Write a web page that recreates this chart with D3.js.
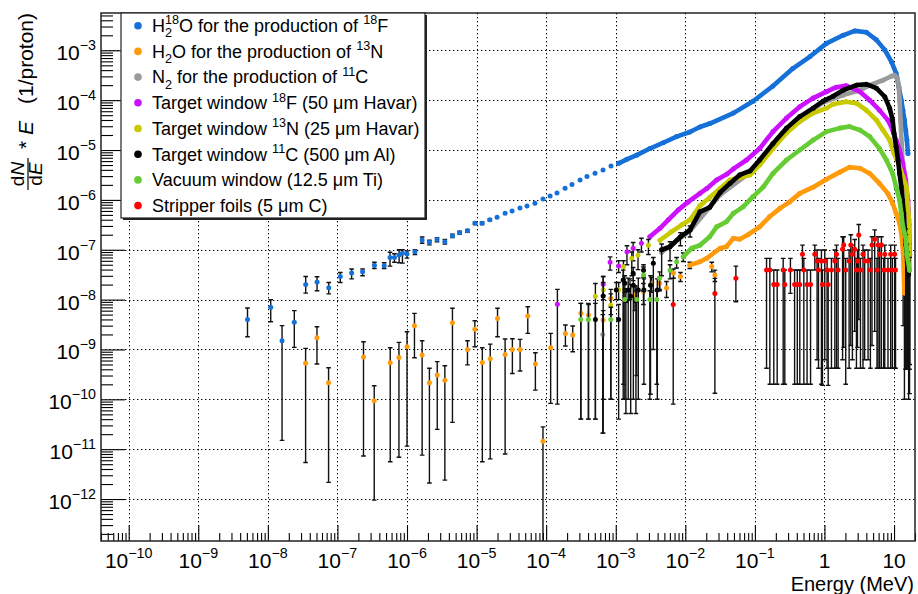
<!DOCTYPE html>
<html>
<head>
<meta charset="utf-8">
<script src="https://cdn.jsdelivr.net/npm/d3@7"></script>
<style>
  html, body { margin: 0; padding: 0; background: #fff; }
  svg { display: block; font-family: "Liberation Sans", Arial, Helvetica, sans-serif; }
</style>
</head>
<body>
<svg id="chart" width="918" height="594"></svg>
<script>
// ---------------- axis ranges and tick labels ----------------
const energyDomain = [4e-11, 20];        // MeV
const fluxDomain = [1.44e-13, 5.6e-3];   // dN/dE * E  (1/proton)
const xTickValues = [1e-10, 1e-9, 1e-8, 1e-7, 1e-6, 1e-5, 1e-4, 1e-3, 1e-2, 1e-1, 1, 10];
const xTickLabels = [["10","\u221210"],["10","\u22129"],["10","\u22128"],["10","\u22127"],["10","\u22126"],["10","\u22125"],
                     ["10","\u22124"],["10","\u22123"],["10","\u22122"],["10","\u22121"],["1",""],["10",""]];
const yTickValues = [1e-12, 1e-11, 1e-10, 1e-9, 1e-8, 1e-7, 1e-6, 1e-5, 1e-4, 1e-3];
const yTickLabels = [["10","\u221212"],["10","\u221211"],["10","\u221210"],["10","\u22129"],["10","\u22128"],
                     ["10","\u22127"],["10","\u22126"],["10","\u22125"],["10","\u22124"],["10","\u22123"]];

// ---------------- legend ----------------
const legendLabels = [
  [["H",""],["2","substack"],["18","sup"],["O for the production of ",""],["18","sup"],["F",""]],
  [["H",""],["2","sub"],["O for the production of ",""],["13","sup"],["N",""]],
  [["N",""],["2","sub"],[" for the production of ",""],["11","sup"],["C",""]],
  [["Target window ",""],["18","sup"],["F (50 \u03bcm Havar)",""]],
  [["Target window ",""],["13","sup"],["N (25 \u03bcm Havar)",""]],
  [["Target window ",""],["11","sup"],["C (500 \u03bcm Al)",""]],
  [["Vacuum window (12.5 \u03bcm Ti)",""]],
  [["Stripper foils (5 \u03bcm C)",""]]
];
const seriesColors = ["#1570d8", "#ff9a0a", "#9a9a9a", "#cc11ff", "#c9c900", "#000000", "#66cc33", "#ff0000"];

// ---------------- data: [E (MeV), value, lower, upper] ----------------
// H2-18O target
const h218oScatter = [
  [5.1e-9,4.0e-9,1.8e-9,6.8e-9],[1.1e-8,7.0e-9,3.6e-9,1.0e-8],[1.6e-8,1.5e-9,1.5e-11,3.0e-9],[2.4e-8,3.5e-9,1.1e-9,6.0e-9],
  [3.5e-8,2.0e-8,1.35e-8,2.9e-8],[5.1e-8,2.25e-8,1.5e-8,2.87e-8],[7.5e-8,1.73e-8,1.3e-8,2.2e-8],[1.1e-7,2.9e-8,2.2e-8,3.5e-8],
  [1.6e-7,3.4e-8,2.6e-8,4.1e-8],[2.3e-7,3.6e-8,3.0e-8,4.1e-8],[3.4e-7,4.9e-8,4.2e-8,5.6e-8],[4.7e-7,4.8e-8,4.2e-8,5.5e-8],
  [5.7e-7,7.0e-8,4.7e-8,8.9e-8],[6.6e-7,7.0e-8,5.6e-8,8.3e-8],[7.7e-7,7.8e-8,5.5e-8,1.0e-7],[8.6e-7,8.5e-8,5.4e-8,1.0e-7],
  [1.0e-6,8.2e-8,6.8e-8,9.5e-8],[1.3e-6,9.1e-8,8.0e-8,1.0e-7],[1.65e-6,1.57e-7,1.35e-7,1.8e-7],[2.1e-6,1.41e-7,1.25e-7,1.55e-7],
  [2.7e-6,1.6e-7,1.45e-7,1.75e-7],[3.5e-6,1.45e-7,1.3e-7,1.6e-7],[4.5e-6,1.9e-7,1.75e-7,2.05e-7],[5.7e-6,2.2e-7,2.05e-7,2.35e-7],
  [7.4e-6,2.4e-7,2.25e-7,2.55e-7],[9.5e-6,3.4e-7,3.2e-7,3.6e-7],[1.2e-5,3.4e-7,3.2e-7,3.6e-7],[1.55e-5,4.0e-7,3.8e-7,4.2e-7],
  [1.97e-5,4.5e-7],[2.57e-5,5.4e-7],[3.24e-5,6.0e-7],[4.2e-5,6.9e-7],[5.3e-5,7.5e-7],[6.9e-5,8.6e-7],[9.0e-5,1.04e-6],
  [1.14e-4,1.19e-6],[1.43e-4,1.37e-6],[1.87e-4,1.71e-6],[2.35e-4,2.03e-6],[3.07e-4,2.5e-6],[3.86e-4,2.94e-6],
  [5.04e-4,3.41e-6],[6.56e-4,3.97e-6],[8.55e-4,4.78e-6]
];
const h218oCurve = [
  [1.1e-3,5.4e-6],[1.44e-3,6.5e-6],[2.0e-3,7.9e-6],[3.1e-3,1.07e-5],[4.8e-3,1.4e-5],[7.5e-3,1.86e-5],[1.16e-2,2.3e-5],
  [1.62e-2,2.9e-5],[2.25e-2,3.4e-5],[4.9e-2,5.5e-5],[9.4e-2,9.5e-5],[0.18,1.9e-4],[0.35,4.3e-4],[0.62,7.5e-4],
  [1.07,1.38e-3],[1.85,2.0e-3],[2.72,2.45e-3],[4.0,2.3e-3],[5.57,1.62e-3],[7.35,1.02e-3],[9.16,5.9e-4],[10.7,3.47e-4],
  [11.7,1.86e-4],[12.7,1.0e-4],[13.4,6.3e-5],[14.1,4.0e-5],[14.7,2.5e-5],[15.3,1.58e-5],[15.85,8.5e-6]
];

// H2O target
const h2oScatter = [
  [3.49e-8,5.26e-10,5.4e-12,1.05e-9],[5.08e-8,1.72e-9,5.1e-10,2.85e-9],[7.46e-8,2.15e-10,2.16e-12,4.3e-10],
  [2.37e-7,7.1e-10,7.3e-12,1.43e-9],[3.38e-7,9.4e-11,9.5e-13,1.87e-10],[5.74e-7,5.4e-10,5.6e-12,1.08e-9],
  [7.66e-7,6.9e-10,6.9e-12,1.39e-9],[1.0e-6,1.13e-9,1.15e-11,2.26e-9],[1.28e-6,2.99e-9,6.8e-10,5.3e-9],
  [1.65e-6,7.7e-10,7.6e-12,1.49e-9],[2.1e-6,2.15e-10,2.1e-12,4.2e-10],[2.72e-6,3.07e-10,2.5e-11,5.7e-10],
  [3.5e-6,2.4e-10,2.4e-12,4.7e-10],[4.5e-6,3.44e-9,3.45e-11,6.7e-9],[7.4e-6,1.0e-9,4.9e-10,1.49e-9],
  [9.44e-6,2.53e-9,1.13e-9,3.77e-9],[1.21e-5,5.5e-10,5.6e-12,1.08e-9],[1.57e-5,6.5e-10,6.4e-12,1.28e-9],
  [2.0e-5,4.2e-9,1.8e-9,6.7e-9],[2.57e-5,7.9e-10,8.0e-12,1.62e-9],[3.27e-5,1.0e-9,3.3e-10,1.64e-9],
  [4.22e-5,1.0e-9,3.7e-10,1.59e-9],[5.44e-5,4.7e-9,2.1e-9,7.2e-9],[7.0e-5,5.1e-10,1.53e-10,8.6e-10],
  [9.0e-5,1.44e-11,1e-14,2.8e-11],[1.16e-4,1.08e-9,8.3e-11,2.1e-9],[1.89e-4,2.1e-9,1.17e-9,3.1e-9],
  [2.41e-4,1.95e-9,9.0e-10,2.95e-9],[3.16e-4,5.3e-9,4e-11,8.4e-9],[4.07e-4,4.9e-9,4e-11,8e-9],
  [6.6e-4,3.9e-9,1e-10,6e-9],[8.5e-4,1.06e-8,5e-9,1.6e-8],
  [1.6e-3,1.8e-8,1.0e-8,2.6e-8],[1.89e-3,1.23e-8,6e-9,1.9e-8],[2.5e-3,1.45e-8,8e-9,2.1e-8],[3.28e-3,2.14e-8,1.4e-8,2.8e-8],
  [4.27e-3,2.14e-8,1.5e-8,2.8e-8],[5.37e-3,1.7e-8,1.1e-8,2.3e-8],[6.76e-3,3.4e-8,2.7e-8,4.1e-8],[8.51e-3,2.9e-8,2.3e-8,3.5e-8],
  [2.4e-2,4.6e-8,3.6e-8,5.6e-8],[2.66e-2,3.1e-8,2.3e-8,3.9e-8]
];
const h2oCurve = [
  [1.16e-2,4.9e-8,4.2e-8,5.6e-8],[1.62e-2,5.75e-8],[2.04e-2,6.76e-8],[3.16e-2,1.07e-7],[3.89e-2,1.15e-7],[4.9e-2,1.7e-7],
  [6.03e-2,1.62e-7],[7.94e-2,2.0e-7],[0.117,2.88e-7],[0.162,4.57e-7],[0.229,6.76e-7],[0.316,9.12e-7],[0.442,1.35e-6],
  [0.687,1.8e-6],[1.07,2.6e-6],[1.66,3.6e-6],[2.29,4.5e-6],[3.24,4.3e-6],[4.47,3.39e-6],[6.17,2.14e-6],[8.13,1.35e-6],
  [9.55,8.51e-7],[10.7,5.37e-7],[12.0,3.39e-7],[12.7,2.14e-7],[13.5,8.9e-8,3e-9,1.5e-7],[14.1,1.35e-8,1e-10,3e-8]
];

// N2 target
const n2Scatter = [[6.5e-4,2.0e-9,2.1e-11,5e-9]];
const n2Curve = [
  [4.57e-3,8.9e-8],[1.17e-2,2.4e-7],[3.16e-2,1.26e-6],[8.51e-2,3.55e-6],[0.182,1.26e-5],[0.442,4.37e-5],
  [0.955,8.9e-5],[1.85,1.26e-4],[3.24,1.58e-4],[4.47,2.0e-4],[6.92,2.51e-4],[9.12,3.02e-4],[10.2,3.16e-4],[11.2,2.75e-4],
  [11.7,1.86e-4],[12.0,1.0e-4],[12.4,3.98e-5],[12.9,1.26e-5],[13.5,3.16e-6],[14.5,6.3e-7],[15.5,1.26e-7]
];

// Target window, 18F (50 um Havar)
const window18FScatter = [
  [1.45e-4,8.1e-9,8.0e-11,1.6e-8],[6.6e-4,2.04e-8,1.2e-8,2.9e-8],[8.3e-4,5.6e-8,3.9e-8,7.2e-8],[1.1e-3,4.7e-8,3.5e-8,6e-8],
  [1.45e-3,9.1e-8,5e-8,1.2e-7],[1.78e-3,1.07e-7,6e-8,1.4e-7],[2.34e-3,1.35e-7,9e-8,1.7e-7]
];
const window18FCurve = [
  [3.09e-3,1.82e-7],[4.32e-3,2.69e-7],
  [5.69e-3,3.98e-7],[7.94e-3,6.31e-7],[1.1e-2,9.12e-7],[1.62e-2,1.35e-6],[2.04e-2,1.7e-6],[2.82e-2,2.51e-6],[3.98e-2,3.31e-6],
  [4.9e-2,4.17e-6],[7.59e-2,6.31e-6],[0.117,1.07e-5],[0.182,2.34e-5],[0.285,4.37e-5],[0.442,7.41e-5],[0.687,1.1e-4],
  [1.07,1.48e-4],[1.48,1.82e-4],[2.04,1.95e-4],[3.24,1.48e-4],[4.47,1.0e-4],[6.17,6.31e-5],[8.13,3.98e-5],[9.55,2.51e-5],
  [10.7,1.58e-5],[12.0,1.0e-5],[13.4,5.37e-6],[14.7,2.51e-6],[15.8,1.0e-6],[16.4,3.16e-7],[16.8,7.9e-8,5e-10,1.3e-7]
];

// Target window, 13N (25 um Havar)
const window13NScatter = [
  [5.1e-4,1.17e-8,4e-11,2.1e-8],[6.6e-4,1.58e-8,1.0e-8,2.2e-8],[8.5e-4,7.8e-9,1e-10,1.3e-8],[1.1e-3,1.58e-8,1.0e-8,2.2e-8],
  [1.29e-3,4.57e-8,2e-10,6e-8],[1.7e-3,6.76e-8,3e-8,9e-8],[2.09e-3,7.76e-8,4e-8,1e-7],[2.95e-3,1.23e-7,8e-8,1.6e-7]
];
const window13NCurve = [
  [4.32e-3,1.55e-7],
  [6.31e-3,2.29e-7],[8.91e-3,3.16e-7],[1.17e-2,3.98e-7],[1.62e-2,7.59e-7],[2.24e-2,1.12e-6],[3.16e-2,1.7e-6],[4.37e-2,2.51e-6],
  [6.03e-2,2.82e-6],[8.51e-2,3.16e-6],[0.117,5.01e-6],[0.182,1.07e-5],[0.285,2.19e-5],[0.442,3.72e-5],[0.687,5.5e-5],
  [1.07,6.92e-5],[1.33,8.32e-5],[2.04,9.33e-5],[2.88,8.71e-5],[3.98,6.31e-5],[5.57,3.98e-5],[6.92,2.51e-5],[8.65,1.58e-5],
  [10.0,8.51e-6],[12.0,4.68e-6],[13.4,2.88e-6],[15.1,1.82e-6],[15.8,7.24e-7],[16.4,3.98e-7],[16.7,3.9e-8,4e-10,7e-8]
];

// Target window, 11C (500 um Al)
const window11CScatter = [
  [5.1e-4,4.0e-9,4e-11,8.4e-9],[6.6e-4,1.18e-8,2.1e-11,2.9e-8],[1.1e-3,4.0e-9,4e-11,8e-9],
  [1.28e-3,2.47e-8,1.0e-10,3.9e-8],[1.4e-3,9.5e-9,5.2e-11,1.66e-8],[1.51e-3,1.55e-8,1.0e-10,2.7e-8],[1.64e-3,1.17e-8,5.2e-11,2.0e-8],
  [1.79e-3,1.95e-8,1.0e-10,3.1e-8],[1.95e-3,9.5e-9,5.2e-11,1.8e-8],[2.11e-3,1.55e-8,1.0e-10,2.7e-8],[2.54e-3,1.55e-8,2.0e-10,2.6e-8],
  [3.16e-3,1.95e-8,1.26e-10,3.0e-8],[3.96e-3,1.55e-8,1.0e-10,2.6e-8],
  [1.02e-3,1.55e-8,1.0e-8,2.2e-8],[1.35e-3,2.14e-8,1.4e-8,3.0e-8],[1.78e-3,3.39e-8,2.4e-8,4.4e-8],[2.51e-3,3.89e-8,2.8e-8,5.0e-8],
  [3.47e-3,5.37e-8,1.0e-9,7.0e-8]
];
const window11CCurve = [
  [4.57e-3,1.0e-7,3.0e-8,1.3e-7],
  [6.03e-3,1.15e-7,6.0e-8,1.45e-7],[8.51e-3,1.82e-7,1.2e-7,2.2e-7],[1.17e-2,2.51e-7,1.8e-7,3.0e-7],[1.62e-2,5.75e-7],[2.24e-2,7.08e-7],
  [3.16e-2,1.41e-6],[4.37e-2,2.14e-6],[6.03e-2,3.16e-6],[8.51e-2,3.8e-6],[0.117,6.31e-6],[0.182,1.35e-5],[0.285,2.75e-5],
  [0.442,4.68e-5],[0.687,6.92e-5],[0.955,9.55e-5],[1.33,1.2e-4],[1.85,1.58e-4],[2.88,2.0e-4],[3.98,2.09e-4],[5.57,1.74e-4],
  [7.35,1.17e-4],[8.65,6.92e-5],[9.55,3.98e-5],[10.0,2.14e-5],[10.7,1.17e-5],[11.4,6.31e-6],[12.0,3.39e-6],[12.7,1.82e-6],
  [13.2,1.0e-6],[13.8,5.37e-7],[14.1,2.88e-7],[14.8,1.26e-7,4e-10,2e-7],[15.5,5.6e-8,4e-10,9e-8],[16.2,3.2e-8,1e-10,6e-8]
];

// Vacuum window (12.5 um Ti)
const vacuumScatter = [
  [3.14e-4,4.0e-9,4.0e-11,8.4e-9],[4.04e-4,4.0e-9,4.0e-11,8.4e-9],[8.5e-4,4.0e-9,1e-10,7e-9],[1.35e-3,1.0e-8,1e-10,1.6e-8],
  [2.0e-3,1.0e-8,3e-10,1.5e-8],[2.51e-3,3.1e-8,1.5e-8,4.5e-8],[3.09e-3,1.0e-8,1e-10,1.5e-8],[3.89e-3,1.0e-8,2e-10,1.5e-8],
  [4.27e-3,2.69e-8,1.6e-8,3.6e-8],[6.03e-3,3.89e-8,2.6e-8,5.0e-8],[7.5e-3,5.75e-8,4.3e-8,7.0e-8]
];
const vacuumCurve = [
  [9.33e-3,7.24e-8,5.8e-8,8.6e-8],
  [1.23e-2,1.07e-7],[1.62e-2,1.23e-7],[2.24e-2,1.82e-7],[2.82e-2,2.88e-7],[3.89e-2,3.63e-7],[4.9e-2,5.37e-7],[6.76e-2,7.24e-7],
  [9.33e-2,1.15e-6],[0.132,1.82e-6],[0.182,3.39e-6],[0.285,6.31e-6],[0.442,1.0e-5],[0.687,1.58e-5],[1.07,2.34e-5],
  [1.66,2.75e-5],[2.29,2.95e-5],[3.24,2.51e-5],[4.47,1.86e-5],[6.17,1.07e-5],[7.76,6.31e-6],[9.55,3.39e-6],[10.7,1.82e-6],
  [12.0,1.0e-6],[12.7,5.37e-7],[13.4,2.88e-7],[14.7,1.78e-7,4e-10,2.6e-7],[15.3,8.1e-8,4e-10,1.3e-7],[16.7,3.9e-8,1.3e-10,7e-8]
];

// Stripper foils (5 um C)
const stripperScatter = [
  [6.7e-3,8.0e-9,8.0e-11,2.67e-8],[2.66e-2,1.33e-8,1.32e-10,2.67e-8],[5.33e-2,2.67e-8,9.06e-9,4.7e-8],
  [0.147,3.92e-8,4.2e-10,6.7e-8],[0.164,3.92e-8,2.0e-10,6.7e-8],[0.187,2.02e-8,2.0e-10,3.92e-8],[0.209,2.02e-8,2.0e-10,3.92e-8],
  [0.255,3.92e-8,2.0e-10,6.7e-8],[0.269,2.02e-8,2.0e-10,3.92e-8],[0.324,3.92e-8,1.33e-8,6.7e-8],[0.372,2.02e-8,2.0e-10,3.92e-8],
  [0.407,2.02e-8,2.0e-10,3.92e-8],[0.442,2.02e-8,2.0e-10,3.92e-8],[0.483,8.1e-8,3.92e-8,1.24e-7],[0.505,3.92e-8,2.0e-10,6.7e-8],
  [0.562,2.02e-8,2.0e-10,3.92e-8],[0.631,2.02e-8,2.0e-10,3.92e-8],[0.726,8.1e-8,3.92e-8,1.24e-7],[0.783,5.93e-8,6.2e-10,9.9e-8],
  [0.82,3.92e-8,4.2e-10,6.7e-8],[0.904,5.93e-8,2.0e-10,9.9e-8],[0.935,2.02e-8,1.9e-10,3.92e-8],[1.01,5.93e-8,6.2e-10,9.9e-8],
  [1.09,3.92e-8,4.2e-10,6.7e-8],[1.13,2.02e-8,1.9e-10,3.92e-8],[1.26,3.92e-8,4.2e-10,6.7e-8],[1.41,5.93e-8,4.2e-10,9.9e-8],
  [1.49,8.1e-8,4.2e-10,1.24e-7],[1.57,3.92e-8,4.2e-10,6.7e-8],[1.82,1.02e-7,6.2e-10,1.82e-7],[1.89,1.24e-7,1.1e-9,1.82e-7],
  [2.02,3.92e-8,2.0e-10,6.7e-8],[2.26,5.93e-8,4.2e-10,9.9e-8],[2.39,1.24e-7,1.2e-9,2.0e-7],[2.52,8.1e-8,6.2e-10,1.24e-7],
  [2.72,1.02e-7,2.3e-9,1.6e-7],[2.88,3.92e-8,4.2e-10,6.7e-8],[2.98,5.93e-8,1.1e-9,9.9e-8],[3.11,1.97e-7,4e-9,3.2e-7],
  [3.29,3.92e-8,4.2e-10,6.7e-8],[3.58,8.1e-8,4.2e-10,1.24e-7],[3.78,5.93e-8,6.2e-10,9.9e-8],[4.23,5.93e-8,6.2e-10,9.9e-8],
  [4.57,3.92e-8,4.2e-10,6.7e-8],[4.82,1.24e-7,1.2e-9,1.82e-7],[5.27,1.62e-7,2.3e-9,2.5e-7],[5.69,3.92e-8,4.2e-10,6.7e-8],
  [5.89,1.24e-7,4.2e-10,1.82e-7],[6.22,8.1e-8,4.2e-10,1.24e-7],[6.58,1.24e-7,4.2e-10,1.82e-7],[7.1,3.92e-8,4.2e-10,6.7e-8],
  [7.35,8.1e-8,4.2e-10,1.24e-7],[8.18,3.92e-8,4.2e-10,6.7e-8],[8.95,8.1e-8,4.2e-10,1.24e-7],[9.46,3.92e-8,4.2e-10,6.7e-8],
  [10.2,8.1e-8,4.2e-10,1.24e-7],[10.5,3.92e-8,4.2e-10,6.7e-8]
];

const series = [
  { scatter: h218oScatter, curve: h218oCurve },
  { scatter: h2oScatter, curve: h2oCurve },
  { scatter: n2Scatter, curve: n2Curve },
  { scatter: window18FScatter, curve: window18FCurve },
  { scatter: window13NScatter, curve: window13NCurve },
  { scatter: window11CScatter, curve: window11CCurve },
  { scatter: vacuumScatter, curve: vacuumCurve },
  { scatter: stripperScatter, curve: [] }
].map((s, i) => ({ ...s, label: legendLabels[i], color: seriesColors[i] }));

// ---------------- layout ----------------
const frame = { left: 101, right: 915, top: 13, bottom: 541 };
const svg = d3.select("#chart");
const x = d3.scaleLog().domain(energyDomain).range([frame.left, frame.right]);
const y = d3.scaleLog().domain(fluxDomain).range([frame.bottom, frame.top]);

// text made of plain, subscript and superscript pieces
function richText(parent, x0, y0, segs, size, anchor, opts) {
  const o = Object.assign({ ratio: 0.7, rise: 0.45, drop: 0.3 }, opts || {});
  const g = parent.append("g");
  let cx = 0, stackX = null, stackW = 0;
  for (const [t, mode] of segs) {
    if (!t) continue;
    const small = mode !== "";
    const fs = small ? size * o.ratio : size;
    const dy = (mode === "sub" || mode === "substack") ? size * o.drop : (mode === "sup" ? -size * o.rise : 0);
    const el = g.append("text").attr("x", cx).attr("y", dy).attr("font-size", fs)
      .attr("fill", "#000").style("white-space", "pre").text(t);
    const w = el.node().getComputedTextLength();
    if (mode === "substack") { stackX = cx; stackW = w; }
    else if (mode === "sup" && stackX !== null) { cx = stackX + Math.max(w, stackW); stackX = null; }
    else cx += w;
  }
  const shift = anchor === "middle" ? -cx / 2 : (anchor === "end" ? -cx : 0);
  g.attr("transform", `translate(${x0 + shift},${y0})`);
  return g;
}

svg.append("rect").attr("width", 918).attr("height", 594).attr("fill", "#fff");

// grid
const grid = svg.append("g").attr("stroke", "#000").attr("stroke-width", 1).attr("stroke-dasharray", "1.4,2.6");
grid.selectAll(".gx").data(xTickValues).join("line")
  .attr("x1", d => Math.round(x(d)) + 0.5).attr("x2", d => Math.round(x(d)) + 0.5)
  .attr("y1", frame.top).attr("y2", frame.bottom);
grid.selectAll(".gy").data(yTickValues).join("line")
  .attr("y1", d => Math.round(y(d)) + 0.5).attr("y2", d => Math.round(y(d)) + 0.5)
  .attr("x1", frame.left).attr("x2", frame.right);

// minor tick positions (2..9 within each decade)
function minorTicks(domain) {
  const out = [];
  const lo = Math.floor(Math.log10(domain[0])), hi = Math.ceil(Math.log10(domain[1]));
  for (let e = lo; e <= hi; e++) for (let k = 2; k <= 9; k++) {
    const v = k * Math.pow(10, e);
    if (v >= domain[0] && v <= domain[1]) out.push(v);
  }
  return out;
}

// axes: ticks drawn inward
const axes = svg.append("g");
axes.append("g").attr("transform", `translate(0,${frame.bottom})`)
  .call(d3.axisBottom(x).tickValues(xTickValues).tickSize(-16).tickFormat(""));
axes.append("g").attr("transform", `translate(0,${frame.bottom})`)
  .call(d3.axisBottom(x).tickValues(minorTicks(energyDomain)).tickSize(-8).tickFormat(""));
axes.append("g").attr("transform", `translate(${frame.left},0)`)
  .call(d3.axisLeft(y).tickValues(yTickValues).tickSize(-24).tickFormat(""));
axes.append("g").attr("transform", `translate(${frame.left},0)`)
  .call(d3.axisLeft(y).tickValues(minorTicks(fluxDomain)).tickSize(-12).tickFormat(""));
axes.selectAll(".domain").remove();
axes.selectAll(".tick line").attr("stroke", "#000").attr("stroke-width", 1.1);

// data
svg.append("defs").append("clipPath").attr("id", "plotClip").append("rect")
  .attr("x", frame.left).attr("y", frame.top)
  .attr("width", frame.right - frame.left).attr("height", frame.bottom - frame.top);
const plot = svg.append("g").attr("clip-path", "url(#plotClip)");
const line = d3.line().x(d => x(d[0])).y(d => y(d[1])).curve(d3.curveLinear);
const capW = 2.3;

series.forEach(s => {
  const g = plot.append("g");
  const withBars = s.scatter.concat(s.curve).filter(d => d.length === 4);
  const bars = g.append("g").attr("stroke", "#111").attr("stroke-width", 1.4).attr("fill", "none");
  bars.selectAll("path").data(withBars).join("path")
    .attr("d", d => {
      const cx = x(d[0]), ylo = y(Math.max(d[2], 1e-16)), yhi = y(d[3]);
      return `M${cx},${ylo}V${yhi}M${cx - capW},${yhi}H${cx + capW}M${cx - capW},${ylo}H${cx + capW}`;
    });
  if (s.curve.length) {
    g.append("path").datum(s.curve).attr("d", line)
      .attr("fill", "none").attr("stroke", s.color).attr("stroke-width", 4.6)
      .attr("stroke-linejoin", "round").attr("stroke-linecap", "round");
  }
  g.append("g").selectAll("circle").data(s.scatter.concat(s.curve)).join("circle")
    .attr("cx", d => x(d[0])).attr("cy", d => y(d[1])).attr("r", 2.5).attr("fill", s.color);
});

// frame
svg.append("rect").attr("x", frame.left).attr("y", frame.top)
  .attr("width", frame.right - frame.left).attr("height", frame.bottom - frame.top)
  .attr("fill", "none").attr("stroke", "#222").attr("stroke-width", 1.5);

// tick labels
xTickValues.forEach((v, i) => {
  const [base, exp] = xTickLabels[i];
  richText(svg, x(v), 568, [[base, ""], [exp, "sup"]], 21, "middle", { ratio: 0.68, rise: 0.48 });
});
yTickValues.forEach((v, i) => {
  const [base, exp] = yTickLabels[i];
  richText(svg, 96, y(v) + 10, [[base, ""], [exp, "sup"]], 21, "end", { ratio: 0.68, rise: 0.48 });
});

// axis titles
svg.append("text").attr("x", 914).attr("y", 591).attr("text-anchor", "end")
  .attr("font-size", 20).attr("fill", "#000").text("Energy (MeV)");

const yTitle = svg.append("g").attr("transform", "rotate(-90)").attr("fill", "#000");
const num = yTitle.append("text").attr("x", -174).attr("y", 24).attr("text-anchor", "middle").attr("font-size", 19);
num.append("tspan").text("d");
num.append("tspan").attr("font-style", "italic").text("N");
const den = yTitle.append("text").attr("x", -174).attr("y", 42).attr("text-anchor", "middle").attr("font-size", 19);
den.append("tspan").text("d");
den.append("tspan").attr("font-style", "italic").text("E");
yTitle.append("line").attr("x1", -190).attr("x2", -158).attr("y1", 28).attr("y2", 28)
  .attr("stroke", "#000").attr("stroke-width", 1.2);
yTitle.append("text").attr("x", -149).attr("y", 33).attr("font-size", 21).text("*");
yTitle.append("text").attr("x", -135).attr("y", 33).attr("font-size", 21).attr("font-style", "italic").text("E");
yTitle.append("text").attr("x", -104).attr("y", 33).attr("font-size", 21).text("(1/proton)");

// legend
const leg = { x: 121, y: 13, w: 304, h: 205, row: 25.7 };
const legend = svg.append("g");
legend.append("rect").attr("x", leg.x + 2).attr("y", leg.y + 2).attr("width", leg.w).attr("height", leg.h).attr("fill", "#222");
legend.append("rect").attr("x", leg.x).attr("y", leg.y).attr("width", leg.w).attr("height", leg.h)
  .attr("fill", "#fff").attr("stroke", "#222").attr("stroke-width", 1.2);
series.forEach((s, i) => {
  const cy = leg.y + 12.7 + i * leg.row;
  legend.append("circle").attr("cx", 138).attr("cy", cy).attr("r", 3.8).attr("fill", s.color);
  richText(legend, 152, cy + 6.3, s.label, 18, "start", { ratio: 0.7, rise: 0.42, drop: 0.3 });
});
</script>
</body>
</html>
